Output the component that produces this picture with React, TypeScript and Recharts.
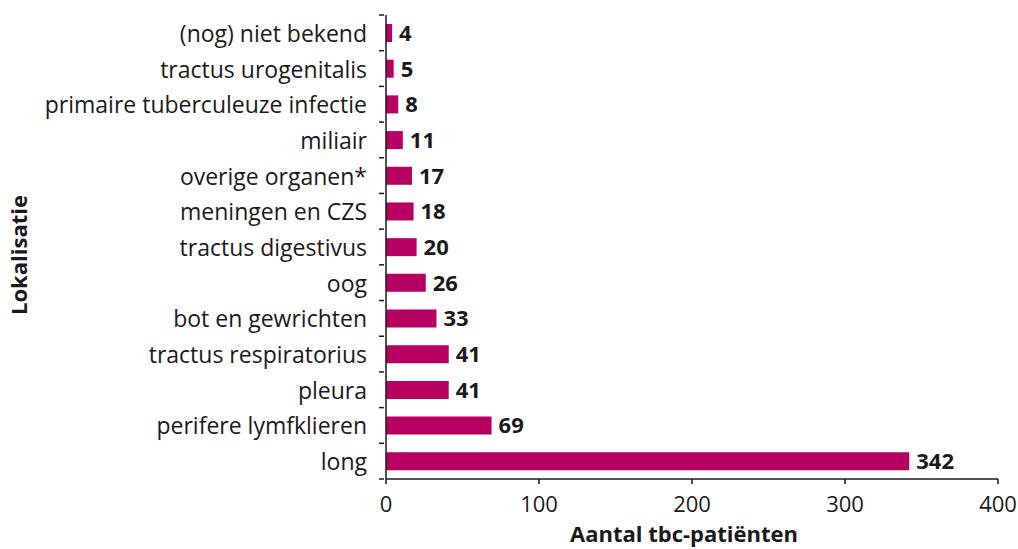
import React from "react";
import { BarChart, Bar, XAxis, YAxis, LabelList } from "recharts";

const categories = [
  "(nog) niet bekend",
  "tractus urogenitalis",
  "primaire tuberculeuze infectie",
  "miliair",
  "overige organen*",
  "meningen en CZS",
  "tractus digestivus",
  "oog",
  "bot en gewrichten",
  "tractus respiratorius",
  "pleura",
  "perifere lymfklieren",
  "long",
];
const patients = [4, 5, 8, 11, 17, 18, 20, 26, 33, 41, 41, 69, 342];
const xTicks = [0, 100, 200, 300, 400];

const data = categories.map((name, i) => ({ name, value: patients[i] }));

const FONT = "'Open Sans', sans-serif";
const INK = "#1a1a1a";
const BAR = "#b70062";

// category label plus tick marks on the band edges (not centers)
function CategoryTick(props: any) {
  const { x, y, payload, index, height, visibleTicksCount } = props;
  const band = height / visibleTicksCount;
  const axisX = x + 6;
  return (
    <g>
      <text
        x={axisX - 17}
        y={y}
        textAnchor="end"
        dominantBaseline="central"
        fontFamily={FONT}
        fontSize={23}
        fill={INK}
      >
        {payload.value}
      </text>
      {index === 0 && (
        <line x1={axisX - 5} x2={axisX} y1={y - band / 2} y2={y - band / 2} stroke={INK} strokeWidth={1.5} />
      )}
      <line x1={axisX - 5} x2={axisX} y1={y + band / 2} y2={y + band / 2} stroke={INK} strokeWidth={1.5} />
    </g>
  );
}

export default function App() {
  return (
    <div style={{ position: "absolute", left: 0, top: 0, width: 1018, height: 549, background: "#fff" }}>
      <BarChart
        width={1018}
        height={549}
        data={data}
        layout="vertical"
        margin={{ top: 15, right: 20, left: 0, bottom: 0 }}
      >
        <XAxis
          type="number"
          domain={[0, 400]}
          ticks={xTicks}
          height={70}
          tickSize={5}
          tickMargin={12}
          axisLine={{ stroke: INK, strokeWidth: 1.5 }}
          tickLine={{ stroke: INK, strokeWidth: 1.5 }}
          tick={{ fill: INK, fontSize: 22, fontFamily: FONT }}
          label={{
            value: "Aantal tbc-patiënten",
            position: "insideBottom",
            offset: 7,
            dx: -8,
            fill: INK,
            fontSize: 22,
            fontWeight: 700,
            fontFamily: FONT,
          }}
        />
        <YAxis
          type="category"
          dataKey="name"
          width={386}
          interval={0}
          tickLine={false}
          tickSize={6}
          axisLine={{ stroke: INK, strokeWidth: 1.5 }}
          tick={<CategoryTick />}
          label={{
            value: "Lokalisatie",
            angle: -90,
            position: "insideLeft",
            offset: 19,
            dy: 8,
            fill: INK,
            fontSize: 22,
            fontWeight: 700,
            fontFamily: FONT,
            style: { textAnchor: "middle" },
          }}
        />
        <Bar dataKey="value" fill={BAR} barSize={18} isAnimationActive={false}>
          <LabelList
            dataKey="value"
            position="right"
            offset={7}
            fill={INK}
            fontSize={22}
            fontWeight={700}
            fontFamily={FONT}
          />
        </Bar>
      </BarChart>
    </div>
  );
}
